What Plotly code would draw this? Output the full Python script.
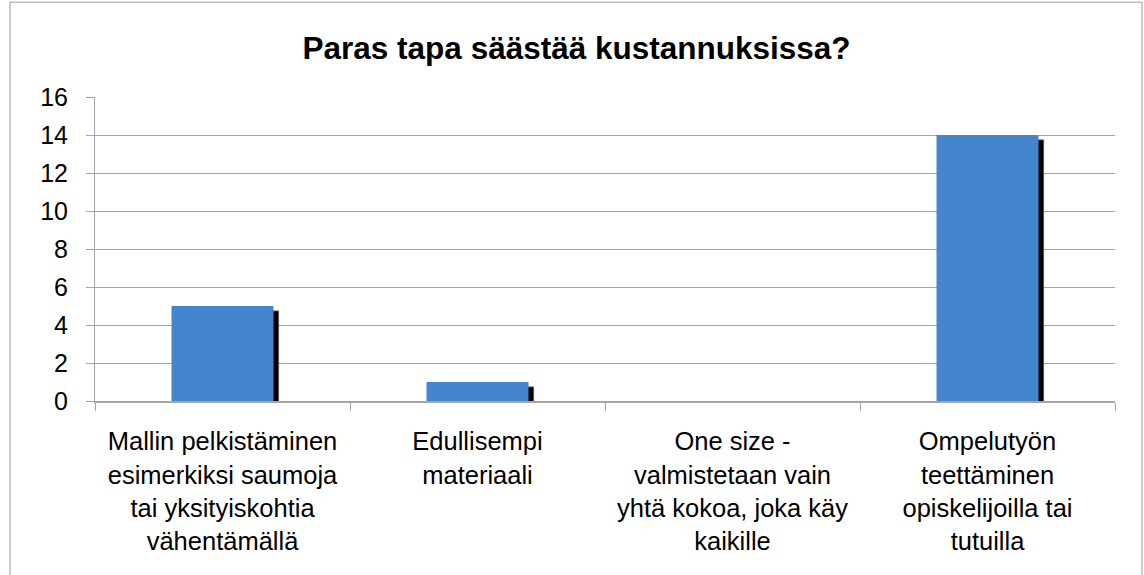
import plotly.graph_objects as go

categories = [
    "Mallin pelkistäminen<br>esimerkiksi saumoja<br>tai yksityiskohtia<br>vähentämällä",
    "Edullisempi<br>materiaali",
    "One size -<br>valmistetaan vain<br>yhtä kokoa, joka käy<br>kaikille",
    "Ompelutyön<br>teettäminen<br>opiskelijoilla tai<br>tutuilla",
]
values = [5, 1, 0, 14]
y_ticks = [0, 2, 4, 6, 8, 10, 12, 14, 16]

FONT = "Liberation Sans, Arial, sans-serif"
GRID = "#A6A6A6"

fig = go.Figure()

# drop shadow, shifted right and down a few pixels
fig.add_trace(go.Bar(
    x=categories, y=values, base=[-0.26] * len(values),
    width=0.4, offset=-0.18,
    marker=dict(color="#000000", line=dict(color="#555555", width=1)),
    hoverinfo="skip", showlegend=False,
))
fig.add_trace(go.Bar(
    x=categories, y=values,
    width=0.4, offset=-0.2,
    marker=dict(color="#4486CD", line=dict(width=0)),
    showlegend=False,
))

fig.update_layout(
    width=1144, height=575,
    barmode="overlay",
    paper_bgcolor="white", plot_bgcolor="white",
    margin=dict(l=95, r=29, t=97, b=174),
    font=dict(family=FONT, size=24, color="#000000"),
    title=dict(
        text="<b>Paras tapa säästää kustannuksissa?</b>",
        x=0.504, xref="container", xanchor="center",
        y=0.916, yref="container", yanchor="middle",
        font=dict(family=FONT, size=31.5, color="#000000"),
    ),
    shapes=[dict(
        type="rect", xref="paper", yref="paper",
        x0=-0.0833, x1=1.0265, y0=-0.6, y1=1.312,
        line=dict(color="#BFBFBF", width=1.5), layer="below",
    )],
)

fig.update_xaxes(
    showline=True, linecolor=GRID, linewidth=1.5,
    ticks="outside", ticklen=8, tickcolor=GRID, tickson="boundaries",
    showgrid=False, tickangle=0, ticklabelstandoff=17,
    tickfont=dict(size=25.5),
)
fig.update_yaxes(
    range=[0, 16], tickvals=y_ticks,
    showline=True, linecolor=GRID, linewidth=1,
    ticks="outside", ticklen=8, tickcolor=GRID,
    showgrid=True, gridcolor=GRID, gridwidth=1,
    zeroline=False, ticklabelstandoff=13,
    tickfont=dict(size=25),
)

fig.write_html(
    "out.html",
    config={"displayModeBar": False},
    post_script="document.body.style.margin='0';",
)
